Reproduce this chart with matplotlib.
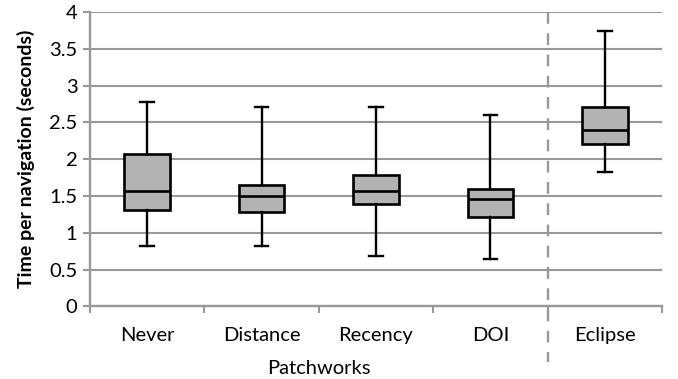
import matplotlib
matplotlib.use("Agg")
import matplotlib.pyplot as plt
from matplotlib.lines import Line2D

plt.rcParams['font.family'] = ['Lato', 'DejaVu Sans']

# Box plot summary values
labels = ['Never', 'Distance', 'Recency', 'DOI', 'Eclipse']
whislo = [0.82, 0.82, 0.68, 0.64, 1.82]
q1 = [1.31, 1.28, 1.39, 1.21, 2.21]
med = [1.57, 1.50, 1.57, 1.46, 2.40]
q3 = [2.07, 1.65, 1.78, 1.60, 2.71]
whishi = [2.78, 2.71, 2.71, 2.60, 3.75]

stats = [dict(label=l, whislo=a, q1=b, med=c, q3=d, whishi=e)
         for l, a, b, c, d, e in zip(labels, whislo, q1, med, q3, whishi)]

grid_col = '#999999'

fig = plt.figure(figsize=(6.78, 3.79), dpi=100)
ax = fig.add_axes([0.1327, 0.1918, 0.8437, 0.7762])

ax.set_ylim(0, 4)
ax.set_xlim(-0.5, 4.5)
ax.set_yticks([0, 0.5, 1, 1.5, 2, 2.5, 3, 3.5, 4])
ax.set_yticklabels(['0', '0.5', '1', '1.5', '2', '2.5', '3', '3.5', '4'])
ax.yaxis.grid(True, color=grid_col, lw=1.5)
ax.set_axisbelow(True)

pos = list(range(len(labels)))
ax.bxp(stats, positions=pos, widths=0.4, patch_artist=True, showfliers=False,
       boxprops=dict(facecolor='#B3B3B3', edgecolor='black', lw=1.9),
       medianprops=dict(color='black', lw=1.9),
       whiskerprops=dict(color='black', lw=1.7),
       capprops=dict(color='black', lw=1.7),
       capwidths=0.12, zorder=3)

# x ticks at category boundaries, labels at centres
ax.set_xticks([-0.5, 0.5, 1.5, 2.5, 3.5, 4.5])
ax.set_xticklabels([])
ax.set_xticks(pos, minor=True)
ax.set_xticklabels(labels, minor=True, fontsize=14.5)
ax.tick_params(axis='x', which='major', length=5, width=1.5, color=grid_col, direction='out')
ax.tick_params(axis='x', which='minor', length=0, pad=15)
ax.tick_params(axis='y', length=5, width=1.5, color=grid_col, labelsize=14.5, pad=4)

for s in ['top', 'right']:
    ax.spines[s].set_visible(False)
for s in ['left', 'bottom']:
    ax.spines[s].set_color(grid_col)
    ax.spines[s].set_linewidth(1.7)

ax.set_ylabel('Time per navigation (seconds)', fontsize=14, fontweight='bold', labelpad=10)

# dashed separator between Patchworks and Eclipse
sep = Line2D([3.5, 3.5], [1.0, -0.19], transform=ax.get_xaxis_transform(),
             color=grid_col, lw=1.7, ls=(0, (5, 4)), clip_on=False, zorder=1)
ax.add_line(sep)

ax.text(1.5, -0.21, 'Patchworks', transform=ax.get_xaxis_transform(),
        ha='center', va='center', fontsize=14.5)

fig.savefig('out.png', dpi=100)
